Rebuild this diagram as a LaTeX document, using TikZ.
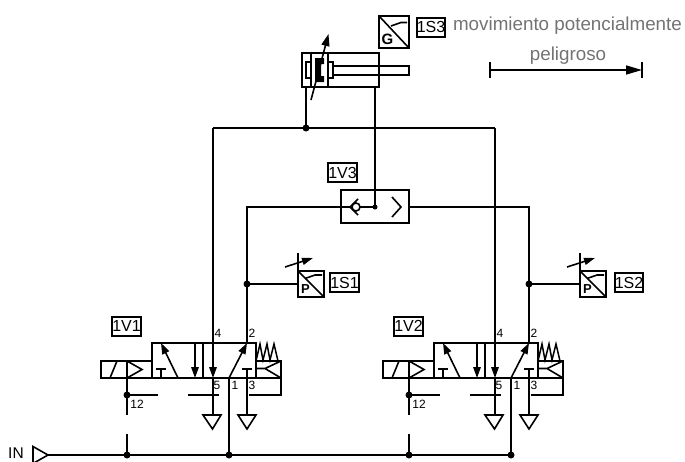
\documentclass[tikz,border=0pt]{standalone}
\usepackage{fontspec}
\setmainfont{Liberation Sans}
\usetikzlibrary{arrows.meta}
\tikzset{
  x=1pt,y=-1pt,
  ln/.style={line width=1.6pt,black,line cap=butt,line join=miter},
  thin ln/.style={line width=1.5pt,black},
  head/.style={ln,-{Triangle[length=11pt,width=7.5pt]}},
  dot/.style={circle,fill=black,inner sep=0pt,minimum size=7pt},
  tagbox/.style={draw=black,line width=2pt,fill=white,minimum width=28pt,minimum height=19pt,inner sep=0pt,font=\fontsize{16}{16}\selectfont},
  port/.style={inner sep=0pt,font=\fontsize{12}{12}\selectfont},
  note/.style={inner sep=0pt,anchor=base,text=black!55,font=\fontsize{18.8}{20}\selectfont},
  valvepic/.pic={
    % body
    \draw[ln] (152,378) -- (152,343) -- (256,343) -- (256,378);
    \draw[ln] (101,378) rectangle (152,361);
    \draw[ln] (101,378) -- (256,378);
    \draw[ln] (203,343) -- (203,378);
    \draw[ln] (127,361) -- (127,378);
    \draw[ln] (110,378) -- (117,361);
    \draw[ln,line join=miter] (127,361) -- (142,369.5) -- (127,378);
    % flow paths
    \draw[head] (178,378) -- (161,343);
    \draw[head] (195,343) -- (195,378);
    \draw[head] (229,378) -- (247,343);
    \draw[ln] (156,369) -- (166,369) (161,369) -- (161,378);
    \draw[ln] (242,369) -- (252,369);
    % spring return and pilot
    \draw[ln] (256,378) -- (281,378) -- (281,361) -- (256,361);
    \draw[ln] (256,368.5) -- (265,368.5) -- (281,361) (265,368.5) -- (281,378);
    \draw[thin ln] (256,361) -- (260,344) -- (263,360) -- (267,344) -- (270,360) -- (274,344) -- (278,361);
    % pilot lines
    \draw[ln] (281,378) -- (281,395) -- (249,395);
    \draw[ln] (188,395) -- (219,395);
    \draw[ln] (127,395) -- (158,395);
    \draw[ln] (127,378) -- (127,415);
    \draw[ln] (127,434) -- (127,455);
    % exhausts
    \draw[head] (213,330) -- (213,378);
    \draw[ln] (213,378) -- (213,415);
    \draw[ln] (247,369) -- (247,415);
    \draw[ln] (229,378) -- (229,455);
    \draw[ln,line join=miter] (203,415) -- (221,415) -- (212.5,429) -- cycle;
    \draw[ln,line join=miter] (238,415) -- (256,415) -- (247,429) -- cycle;
    \node[dot] at (127,395) {};
    \node[dot] at (127,455) {};
    \node[dot] at (229,455) {};
    % numbers
    \node[port] at (218,333) {4};
    \node[port] at (252,333) {2};
    \node[port] at (217,385.5) {5};
    \node[port] at (235,385.5) {1};
    \node[port] at (252,385.5) {3};
    \node[port] at (137,404) {12};
  },
  senspic/.pic={
    \draw[ln] (298,271) rectangle (324,297);
    \draw[ln] (298,271) -- (324,297);
    \draw[ln] (305,278.5) -- (315,275) -- (322,275);
    \node[inner sep=0pt,font=\fontsize{13}{13}\bfseries\selectfont] at (305.5,289) {P};
    \draw[ln] (298,271) -- (298,253);
    \draw[ln,-{Triangle[length=11pt,width=7pt]}] (285,267) -- (313,258);
  },
}
\begin{document}
\begin{tikzpicture}
\useasboundingbox (0,0) rectangle (685,461);
% valves
\pic at (0,0) {valvepic};
\pic at (282,0) {valvepic};
% named nodes
\node[tagbox] (t1v1) at (126.5,326) {1V1};
\node[tagbox] (t1v2) at (408.5,326) {1V2};
\node[tagbox] (t1v3) at (342.5,172.5) {1V3};
\node[tagbox] (t1s1) at (344.5,282.5) {1S1};
\node[tagbox] (t1s2) at (629,282.5) {1S2};
\node[tagbox] (t1s3) at (431,27) {1S3};
\coordinate (cylA) at (306,87);
\coordinate (cylB) at (375,87);
\coordinate (jA) at (306,128);
\coordinate (jAl) at (213,128);
\coordinate (jAr) at (495,128);
\coordinate (v1a) at (213,331);
\coordinate (v2a) at (495,331);
\coordinate (jS) at (375,207);
\coordinate (shL) at (341,207);
\coordinate (shR) at (409,207);
\coordinate (cL) at (247,207);
\coordinate (cR) at (529,207);
\coordinate (v1b) at (247,343);
\coordinate (v2b) at (529,343);
\coordinate (j1) at (247,284);
\coordinate (j2) at (529,284);
\coordinate (s1) at (298,284);
\coordinate (s2) at (580,284);
\coordinate (busL) at (48,455);
\coordinate (busR) at (511,455);
% cylinder
\draw[ln] (302,53) rectangle (379,87);
\draw[ln] (311,53) -- (311,87) (328,53) -- (328,87);
\draw[ln] (306,62) rectangle (311,78);
\draw[ln] (328,62) rectangle (333,78);
\draw[ln,line width=2pt] (333,66) rectangle (409,74.5);
\fill[black] (315,58) -- (324,58) -- (324,64) -- (321,64) -- (321,76) -- (324,76) -- (324,82) -- (315,82) -- cycle;
\draw[ln,-{Triangle[length=12pt,width=8pt]}] (311,100) -- (328.5,34);
% end-position sensor
\draw[ln] (379,16) rectangle (409,48);
\draw[ln] (379,16) -- (409,48);
\draw[ln] (391,26) -- (401,22.5) -- (407,22.5);
\node[inner sep=0pt,font=\fontsize{15}{15}\bfseries\selectfont] at (387.5,39) {G};
% pressure sensors
\pic at (0,0) {senspic};
\pic at (282,0) {senspic};
% shuttle valve
\draw[ln] (341,190) rectangle (409,223);
\draw[ln] (341,207) -- (350,207);
\draw[ln] (358,199) -- (350,207) -- (358,215);
\draw[ln] (356,207) circle (4);
\draw[ln] (360,207) -- (jS);
\draw[ln] (392,197) -- (401,207) -- (392,217);
% connectors
\draw[ln] (cylA) -- (jA);
\draw[ln] (jAl) -- (jAr);
\draw[ln] (jAl) -- (v1a);
\draw[ln] (jAr) -- (v2a);
\draw[ln] (cylB) -- (jS);
\draw[ln] (shL) -- (cL) -- (v1b);
\draw[ln] (shR) -- (cR) -- (v2b);
\draw[ln] (j1) -- (s1);
\draw[ln] (j2) -- (s2);
\draw[ln] (busL) -- (busR);
\node[dot] at (jA) {};
\node[dot,minimum size=5pt] at (jS) {};
\node[dot] at (j1) {};
\node[dot] at (j2) {};
% IN
\draw[ln] (33,446.5) -- (48,455) -- (33,463.5) -- cycle;
\node[inner sep=0pt,font=\fontsize{15.5}{15.5}\selectfont] (in) at (16,453.5) {IN};
% note
\node[note] (n1) at (567.5,30) {movimiento potencialmente};
\node[note] (n2) at (568,60) {peligroso};
\coordinate (aL) at (490,70);
\coordinate (aR) at (642,70);
\draw[ln] (490,62) -- (490,78);
\draw[ln] (642,62) -- (642,78);
\draw[ln,-{Triangle[length=16pt,width=9pt]}] (aL) -- (aR);
\end{tikzpicture}
\end{document}
